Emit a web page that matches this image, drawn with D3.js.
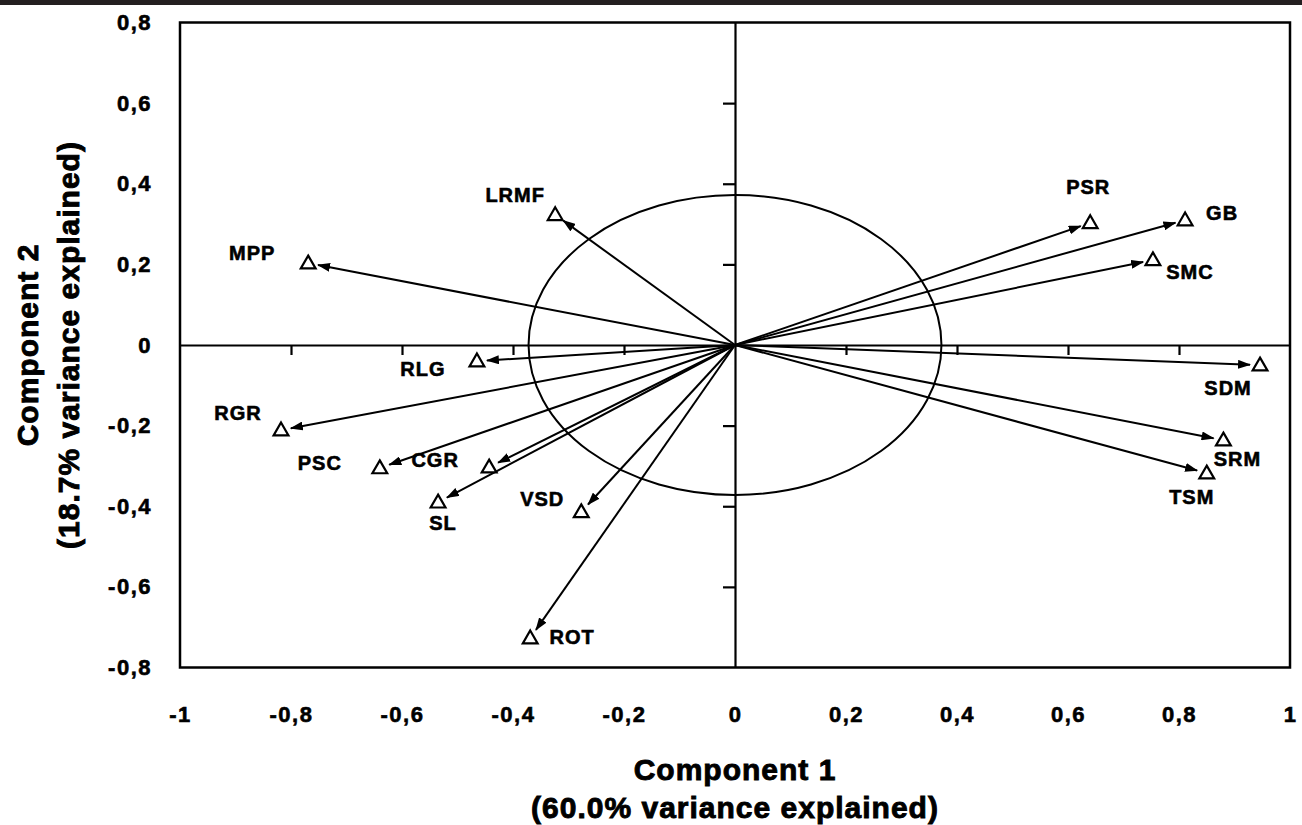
<!DOCTYPE html>
<html>
<head>
<meta charset="utf-8">
<script src="https://cdn.jsdelivr.net/npm/d3@7"></script>
<style>
  body { margin: 0; background: #fff; }
  text { font-family: "Liberation Sans", Arial, sans-serif; font-weight: bold; fill: #000; }
</style>
</head>
<body>
<script>
// variables (loadings on the two components)
var variables = ["LRMF", "MPP", "PSR", "GB", "SMC", "SDM", "SRM", "TSM",
                 "RLG", "RGR", "PSC", "CGR", "SL", "VSD", "ROT"];
var comp1 = [-0.324, -0.769, 0.640, 0.811, 0.753, 0.946, 0.880, 0.850,
             -0.465, -0.818, -0.640, -0.443, -0.535, -0.277, -0.369];
var comp2 = [0.323, 0.203, 0.303, 0.310, 0.211, -0.050, -0.236, -0.318,
             -0.040, -0.211, -0.305, -0.303, -0.390, -0.414, -0.727];

var xTicks = [-1, -0.8, -0.6, -0.4, -0.2, 0, 0.2, 0.4, 0.6, 0.8, 1];
var yTicks = [-0.8, -0.6, -0.4, -0.2, 0, 0.2, 0.4, 0.6, 0.8];
var circleRadius = 0.372;

var xTitle = ["Component 1", "(60.0% variance explained)"];
var yTitle = ["Component 2", "(18.7% variance explained)"];

var W = 1302, H = 825;

var x = d3.scaleLinear().domain([-1, 1]).range([180, 1290]);
var y = d3.scaleLinear().domain([-0.8, 0.8]).range([667.5, 22.5]);

function fmt(d) {
  if (d === 0) return "0";
  if (Math.abs(d) === 1) return (d < 0 ? "-" : "") + "1";
  return (d < 0 ? "-" : "") + Math.abs(d).toFixed(1).replace(".", ",");
}

var svg = d3.select("body").append("svg")
  .attr("width", W)
  .attr("height", H);

// dark strip at the top
svg.append("rect").attr("x", 0).attr("y", 0).attr("width", W).attr("height", 5).attr("fill", "#231f20");

// frame
svg.append("rect")
  .attr("x", x(-1)).attr("y", y(0.8))
  .attr("width", x(1) - x(-1)).attr("height", y(-0.8) - y(0.8))
  .attr("fill", "none").attr("stroke", "#000").attr("stroke-width", 2.5);

// axes through the origin
var inner = function(arr, lim) { return arr.filter(function(d) { return d !== 0 && Math.abs(d) < lim; }); };

var hAxis = svg.append("g")
  .attr("transform", "translate(0," + y(0) + ")")
  .call(d3.axisBottom(x).tickValues(inner(xTicks, 1)).tickSize(10).tickSizeOuter(0).tickFormat(""));
var vAxis = svg.append("g")
  .attr("transform", "translate(" + x(0) + ",0)")
  .call(d3.axisLeft(y).tickValues(inner(yTicks, 0.8)).tickSize(12).tickSizeOuter(0).tickFormat(""));
[hAxis, vAxis].forEach(function(g) {
  g.selectAll("path, line").attr("stroke", "#000").attr("stroke-width", 2.2);
});

// tick labels outside the frame
var yLab = svg.append("g")
  .attr("transform", "translate(152,0)")
  .call(d3.axisLeft(y).tickValues(yTicks).tickSize(0).tickPadding(0).tickFormat(fmt));
var xLab = svg.append("g")
  .attr("transform", "translate(0,706)")
  .call(d3.axisBottom(x).tickValues(xTicks).tickSize(0).tickPadding(0).tickFormat(fmt));
[yLab, xLab].forEach(function(g) {
  g.select(".domain").remove();
  g.selectAll("text")
    .attr("font-family", "Liberation Sans, Arial, sans-serif")
    .attr("font-weight", "bold")
    .attr("font-size", 22)
    .attr("letter-spacing", 1.5)
    .attr("fill", "#000")
    .attr("stroke", "#000")
    .attr("stroke-width", 0.6);
});

// correlation circle
svg.append("ellipse")
  .attr("cx", x(0)).attr("cy", y(0))
  .attr("rx", x(circleRadius) - x(0))
  .attr("ry", y(0) - y(circleRadius))
  .attr("fill", "none").attr("stroke", "#000").attr("stroke-width", 2);

// arrow head
svg.append("defs").append("marker")
  .attr("id", "head")
  .attr("markerUnits", "userSpaceOnUse")
  .attr("viewBox", "0 0 13 9")
  .attr("refX", 12).attr("refY", 4.5)
  .attr("markerWidth", 13).attr("markerHeight", 9)
  .attr("orient", "auto")
  .append("path").attr("d", "M0,0 L13,4.5 L0,9 Z").attr("fill", "#000");

var pts = variables.map(function(v, i) { return { name: v, px: x(comp1[i]), py: y(comp2[i]) }; });

svg.append("g").selectAll("line")
  .data(pts)
  .enter().append("line")
  .attr("x1", x(0)).attr("y1", y(0))
  .attr("x2", function(d) {
    var dx = d.px - x(0), dy = d.py - y(0), l = Math.sqrt(dx * dx + dy * dy);
    return d.px - dx / l * 10;
  })
  .attr("y2", function(d) {
    var dx = d.px - x(0), dy = d.py - y(0), l = Math.sqrt(dx * dx + dy * dy);
    return d.py - dy / l * 10;
  })
  .attr("stroke", "#000").attr("stroke-width", 2)
  .attr("marker-end", "url(#head)");

// open triangles
svg.append("g").selectAll("path")
  .data(pts)
  .enter().append("path")
  .attr("d", d3.symbol(d3.symbolTriangle).size(95))
  .attr("transform", function(d) { return "translate(" + d.px + "," + (d.py + 1) + ")"; })
  .attr("fill", "#fff").attr("stroke", "#000").attr("stroke-width", 2.2);

// label placement next to each triangle
var labelOffsets = {
  LRMF: [-40, -20], MPP: [-56, -10], PSR: [-2, -36], GB: [37, -7], SMC: [37, 12],
  SDM: [-32, 23], SRM: [14, 19], TSM: [-15, 24], RLG: [-54, 8], RGR: [-43, -17],
  PSC: [-60, -5], CGR: [-54, -7], SL: [5, 21], VSD: [-39, -13], ROT: [42, -1]
};

svg.append("g").selectAll("text")
  .data(pts)
  .enter().append("text")
  .attr("x", function(d) { return d.px + labelOffsets[d.name][0]; })
  .attr("y", function(d) { return d.py + labelOffsets[d.name][1]; })
  .attr("text-anchor", "middle")
  .attr("dy", "0.36em")
  .attr("font-size", 20)
  .attr("letter-spacing", 1)
  .attr("stroke", "#000").attr("stroke-width", 0.6)
  .text(function(d) { return d.name; });

// axis titles
svg.append("g").selectAll("text")
  .data(xTitle)
  .enter().append("text")
  .attr("x", x(0)).attr("y", function(d, i) { return 780 + i * 38; })
  .attr("text-anchor", "middle")
  .attr("font-size", 30)
  .attr("letter-spacing", 1)
  .attr("stroke", "#000").attr("stroke-width", 0.9)
  .text(function(d) { return d; });

svg.append("g").selectAll("text")
  .data(yTitle)
  .enter().append("text")
  .attr("transform", function(d, i) { return "translate(" + (38 + i * 41) + "," + y(0) + ") rotate(-90)"; })
  .attr("text-anchor", "middle")
  .attr("font-size", 30)
  .attr("letter-spacing", 1)
  .attr("stroke", "#000").attr("stroke-width", 0.9)
  .text(function(d) { return d; });
</script>
</body>
</html>
